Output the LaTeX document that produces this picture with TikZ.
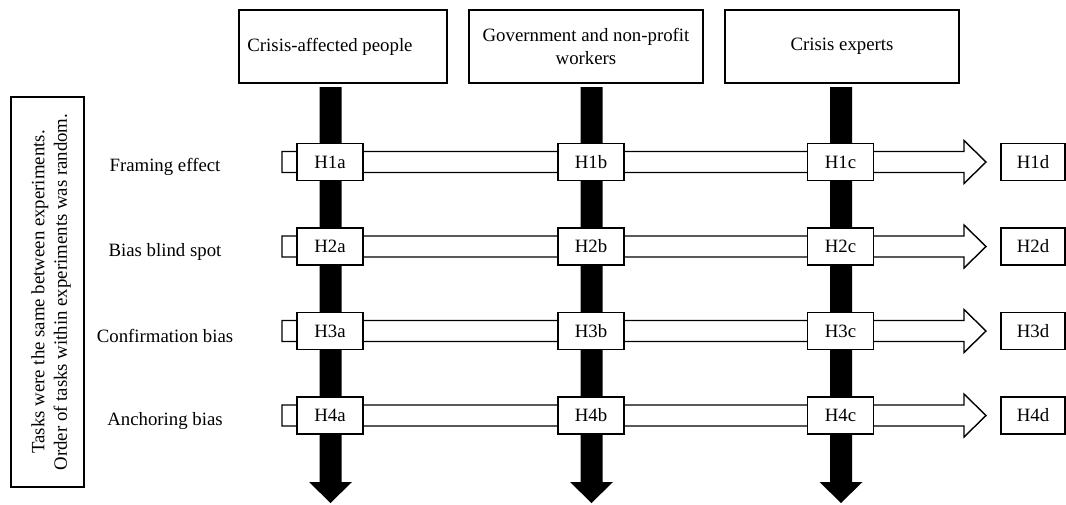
\documentclass[tikz,border=0pt]{standalone}
\usepackage{fontspec}
\setmainfont{Liberation Serif}
\usetikzlibrary{calc}
\begin{document}
\begin{tikzpicture}[x=1pt,y=-1pt,
  lw/.style={line width=1.4pt},
  txt/.style={font=\rmfamily\fontsize{18.8}{22.5}\selectfont},
  topbox/.style={draw,lw,txt,minimum height=73pt,align=center,inner sep=2pt},
  hbox/.style={draw,lw,txt,fill=white,minimum width=66pt,minimum height=37pt,inner sep=0pt},
  hollow/.style={draw,lw,fill=white,line join=miter},
  solidarrow/.style={fill=black}]
\useasboundingbox (0,0) rectangle (1066,504);

% side note
\draw[lw] (11,97) rectangle (84,487);
\node[txt,rotate=90,align=center,inner sep=0pt] (note) at (51,292)
  {Tasks were the same between experiments.\\Order of tasks within experiments was random.};

% top boxes
\node[topbox,minimum width=208pt] (pa) at (343,46.5) {Crisis-affected people\hspace*{26pt}};
\node[topbox,minimum width=234pt] (pb) at (586,46.5) {Government and non-profit\\workers};
\node[topbox,minimum width=234pt] (pc) at (842,46.5) {Crisis experts};

% vertical black arrows
\foreach \n/\x in {a/330.5,b/591.5,c/841}{
  \coordinate (top\n) at (\x,87);
  \coordinate (tip\n) at (\x,503);
  \fill[solidarrow] ($(top\n)+(-11,0)$) -- ($(top\n)+(11,0)$) -- ($(tip\n)+(11,-21)$)
     -- ($(tip\n)+(21.5,-21)$) -- (tip\n) -- ($(tip\n)+(-21.5,-21)$) -- ($(tip\n)+(-11,-21)$) -- cycle;
}

% rows
\foreach \r/\y/\lab in {1/162/Framing effect,2/246.5/Bias blind spot,3/331/Confirmation bias,4/415.5/Anchoring bias}{
  \coordinate (s\r) at (282,\y);
  \coordinate (t\r) at (986,\y);
  \draw[hollow] ($(s\r)+(0,-10.5)$) -- ($(t\r)+(-22,-10.5)$) -- ($(t\r)+(-22,-21.5)$) -- (t\r)
     -- ($(t\r)+(-22,21.5)$) -- ($(t\r)+(-22,10.5)$) -- ($(s\r)+(0,10.5)$) -- cycle;
  \node[txt] (lab\r) at (165,\y+5) {\lab};
  \node[hbox] (h\r a) at (330,\y) {H\r a};
  \node[hbox] (h\r b) at (591,\y) {H\r b};
  \node[hbox] (h\r c) at (840.5,\y) {H\r c};
  \node[hbox,minimum width=64pt] (h\r d) at (1033,\y) {H\r d};
}
\end{tikzpicture}
\end{document}
